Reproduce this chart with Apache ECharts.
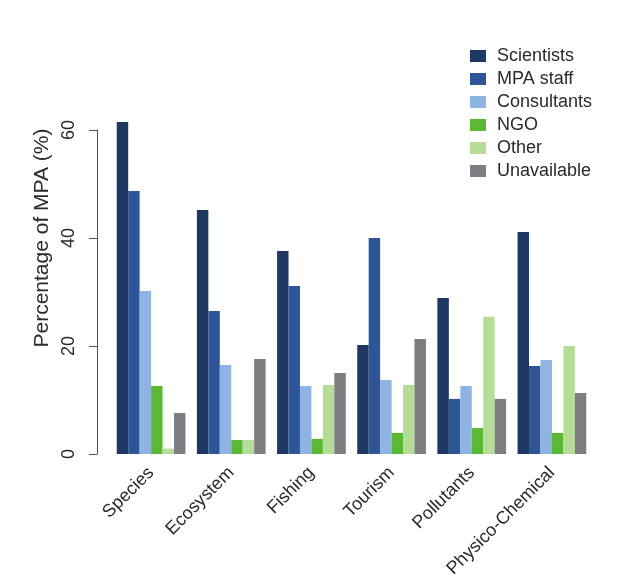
<!DOCTYPE html>
<html><head><meta charset="utf-8">
<script src="https://cdn.jsdelivr.net/npm/echarts@6/dist/echarts.min.js"></script>
<style>html,body{margin:0;padding:0;background:#fff}#c{width:620px;height:585px}</style>
</head><body><div id="c"></div>
<script>
var categories = ['Species','Ecosystem','Fishing','Tourism','Pollutants','Physico-Chemical'];
var seriesNames = ['Scientists','MPA staff','Consultants','NGO','Other','Unavailable'];
var scientists  = [61.5, 45.2, 37.6, 20.2, 28.9, 41.1];
var mpaStaff    = [48.7, 26.5, 31.1, 40.0, 10.2, 16.3];
var consultants = [30.2, 16.5, 12.6, 13.7, 12.6, 17.4];
var ngo         = [12.6, 2.6, 2.8, 3.9, 4.8, 3.9];
var other       = [1.0, 2.6, 12.8, 12.8, 25.4, 20.0];
var unavailable = [7.6, 17.6, 15.0, 21.3, 10.2, 11.3];
var yTicks = [0, 20, 40, 60];
var yTitle = 'Percentage of MPA (%)';
var colors = ['#1e3763','#2e5597','#8eb4e3','#5bb832','#b5dd98','#7d7d82'];
var values = [scientists, mpaStaff, consultants, ngo, other, unavailable];

var chart = echarts.init(document.getElementById('c'));
var font = 'Liberation Sans, Arial, sans-serif';
var txt = '#2a2a2a';
chart.setOption({
  animation: false,
  color: colors,
  grid: {left: 111, top: 130, width: 481, height: 324},
  legend: {
    orient: 'vertical', left: 465, top: 42, itemGap: 5,
    itemWidth: 16, itemHeight: 12, icon: 'rect',
    textStyle: {fontFamily: font, fontSize: 18, lineHeight: 18, color: txt, padding: [0,0,0,6]},
    data: seriesNames
  },
  graphic: [{
    type: 'text', x: 42, y: 238, rotation: Math.PI / 2,
    style: {text: yTitle, fontFamily: font, fontSize: 21, fill: txt, align: 'center', verticalAlign: 'middle'}
  }],
  xAxis: {
    type: 'category', data: categories,
    axisLine: {show: false}, axisTick: {show: false},
    axisLabel: {rotate: 45, margin: 16, fontFamily: font, fontSize: 18, color: txt, interval: 0}
  },
  yAxis: {
    type: 'value', min: 0, max: 60, interval: 20, offset: 14,
    axisLine: {show: true, lineStyle: {color: '#555', width: 1}},
    axisTick: {show: true, length: 8, lineStyle: {color: '#555'}},
    splitLine: {show: false},
    axisLabel: {rotate: 90, margin: 19, fontFamily: font, fontSize: 18, color: txt,
      formatter: function(v){ return yTicks.indexOf(v) >= 0 ? String(v) : ''; }}
  },
  series: seriesNames.map(function(n, i){
    return {name: n, type: 'bar', data: values[i], clip: false,
      barGap: '0%', barCategoryGap: '14.3%'};
  })
});
</script></body></html>
